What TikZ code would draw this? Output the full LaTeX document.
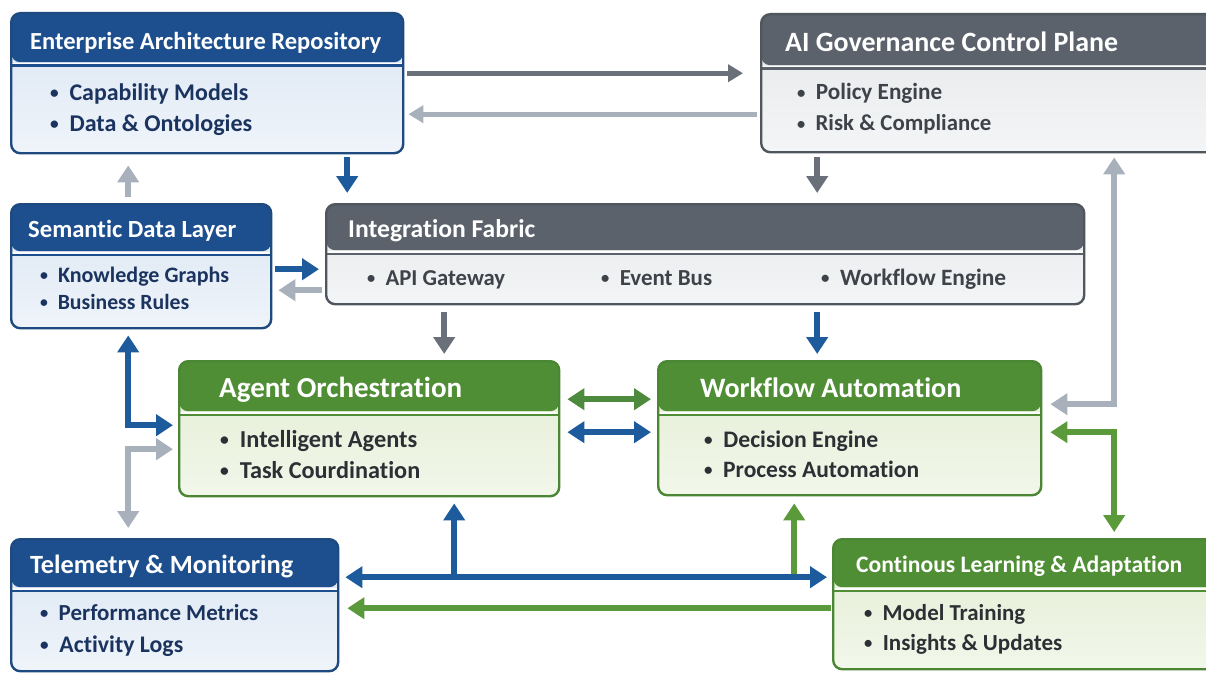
\documentclass[tikz,border=0pt]{standalone}
\usepackage{fontspec}
\usepackage{graphicx}
\setmainfont{Carlito}[Ligatures={NoCommon,NoRequired,NoContextual}]
\usetikzlibrary{arrows.meta}

\definecolor{bBd}{HTML}{1E4A80}
\definecolor{bHd}{HTML}{1D4F8E}
\definecolor{bTop}{HTML}{DAE5F2}
\definecolor{bBot}{HTML}{EFF4FA}
\definecolor{bTx}{HTML}{1B335F}
\definecolor{nBd}{HTML}{50565E}
\definecolor{nHd}{HTML}{5C626B}
\definecolor{nTop}{HTML}{E5E7EA}
\definecolor{nBot}{HTML}{F4F5F6}
\definecolor{nTx}{HTML}{3E434A}
\definecolor{gBd}{HTML}{4A8634}
\definecolor{gHd}{HTML}{4F8E35}
\definecolor{gTop}{HTML}{E2EDD3}
\definecolor{gBot}{HTML}{F2F7EA}
\definecolor{gTx}{HTML}{2C3034}
\definecolor{aBlue}{HTML}{1D5B9D}
\definecolor{aDark}{HTML}{69707A}
\definecolor{aLight}{HTML}{A8B0BB}
\definecolor{aGreen}{HTML}{5B9A3B}
\definecolor{aGreenD}{HTML}{4E8A3E}

\tikzset{
  conn/.style={line width=6pt, >={Triangle[length=17pt,width=21pt]}},
  thinconn/.style={line width=5pt, >={Triangle[length=15pt,width=17pt]}},
  txt/.style={anchor=base west, inner sep=0pt, font=\bfseries},
}

\newcommand\bul{\raisebox{0.7pt}{\scalebox{0.72}{\textbullet}}\hspace{0.45em}}

% name, x1, y1, x2, y2, header bottom y, theme
\newcommand\panel[7]{%
  \pgfmathsetmacro\pw{#4-#2}%
  \pgfmathsetmacro\ph{#5-#3}%
  \pgfmathsetmacro\hh{#6-#3}%
  \node[draw=#7Bd, line width=2.4pt, rounded corners=9pt,
        top color=#7Top, bottom color=#7Bot,
        minimum width=\pw pt, minimum height=\ph pt, inner sep=0pt,
        anchor=north west,
        path picture={
          \fill[#7Hd] (path picture bounding box.north west) rectangle
             ([shift={(0,\hh-2)}]path picture bounding box.north east);
          \draw[white, line width=1.5pt]
             ([shift={(0,\hh-0.4)}]path picture bounding box.north west) --
             ([shift={(0,\hh-0.4)}]path picture bounding box.north east);
          \draw[#7Hd, line width=2.2pt]
             ([shift={(0,\hh+1.4)}]path picture bounding box.north west) --
             ([shift={(0,\hh+1.4)}]path picture bounding box.north east);
        }] (#1) at (#2,#3) {};%
}
% name, colour, x, baseline y, width, text
\newcommand\tl[6]{%
  \node[txt, text=#2] (#1) at (#3,#4) {\resizebox{#5pt}{!}{#6}};%
}

\begin{document}
\begin{tikzpicture}[x=1pt, y=-1pt]
\useasboundingbox (0,0) rectangle (1206,674);
\clip (0,0) rectangle (1206,674);
\fill[white] (0,0) rectangle (1206,674);

% ---------- panels ----------
\panel{ear}{10}{12}{402}{152}{63}{b}
\panel{gov}{760}{13}{1235}{151}{66}{n}
\panel{sdl}{10}{203}{270}{327}{252}{b}
\panel{intf}{325}{203}{1083}{303}{251}{n}
\panel{agent}{178}{360}{558}{495}{412}{g}
\panel{wfa}{657}{360}{1040}{494}{412}{g}
\panel{tel}{10}{538}{337}{670}{588}{b}
\panel{cla}{832}{538}{1235}{668}{588}{g}

% ---------- texts ----------
\tl{t1}{white}{30}{50}{351}{Enterprise Architecture Repository}
\tl{i1a}{bTx}{50}{100}{198}{\bul Capability Models}
\tl{i1b}{bTx}{50}{131}{202}{\bul Data \& Ontologies}
\tl{t2}{white}{785}{52}{333}{AI Governance Control Plane}
\tl{i2a}{nTx}{797}{100}{145}{\bul Policy Engine}
\tl{i2b}{nTx}{797}{131}{194}{\bul Risk \& Compliance}
\tl{t3}{white}{28}{237}{208}{Semantic Data Layer}
\tl{i3a}{bTx}{40}{282}{189}{\bul Knowledge Graphs}
\tl{i3b}{bTx}{40}{309}{149}{\bul Business Rules}
\tl{t4}{white}{348}{237}{187}{Integration Fabric}
\tl{i4a}{nTx}{367}{285}{138}{\bul API Gateway}
\tl{i4b}{nTx}{601}{285}{111}{\bul Event Bus}
\tl{i4c}{nTx}{821}{285}{185}{\bul Workflow Engine}
\tl{t5}{white}{219}{397}{243}{Agent Orchestration}
\tl{i5a}{gTx}{220}{447}{197}{\bul Intelligent Agents}
\tl{i5b}{gTx}{220}{478}{200}{\bul Task Courdination}
\tl{t6}{white}{700}{397}{261}{Workflow Automation}
\tl{i6a}{gTx}{704}{447}{174}{\bul Decision Engine}
\tl{i6b}{gTx}{704}{477}{215}{\bul Process Automation}
\tl{t7}{white}{30}{573}{263}{Telemetry \& Monitoring}
\tl{i7a}{bTx}{40}{620}{218}{\bul Performance Metrics}
\tl{i7b}{bTx}{40}{652}{143}{\bul Activity Logs}
\tl{t8}{white}{856}{572}{326}{Continous Learning \& Adaptation}
\tl{i8a}{gTx}{864}{620}{161}{\bul Model Training}
\tl{i8b}{gTx}{864}{650}{198}{\bul Insights \& Updates}

% ---------- connectors ----------
% top pair
\draw[thinconn, aDark, ->] ([shift={(3,-10)}]ear.east) -- ([shift={(-17,-10)}]gov.west);
\draw[thinconn, aLight, ->] ([shift={(-3,31)}]gov.west) -- ([shift={(4,31)}]ear.east);
% down into integration fabric
\draw[conn, aBlue, ->] ([shift={(140,3)}]ear.south) -- ([shift={(-358,-10)}]intf.north);
\draw[conn, aDark, ->] ([shift={(-181.5,4)}]gov.south) -- ([shift={(112,-10)}]intf.north);
% semantic layer
\draw[conn, aLight, ->] ([shift={(-13,-6)}]sdl.north) -- ([shift={(-79,11)}]ear.south);
\draw[conn, aBlue, ->] ([shift={(3,3)}]sdl.east) -- ([shift={(-6,15)}]intf.west);
\draw[conn, aLight, ->] ([shift={(-3,36)}]intf.west) -- ([shift={(6,24)}]sdl.east);
% integration down
\draw[conn, aDark, ->] ([shift={(-261,7)}]intf.south) -- ([shift={(75,-6)}]agent.north);
\draw[conn, aBlue, ->] ([shift={(112,7)}]intf.south) -- ([shift={(-32.5,-6)}]wfa.north);
% agent <-> workflow
\draw[conn, aGreenD, <->] ([shift={(7,-29.5)}]agent.east) -- ([shift={(-6,-29)}]wfa.west);
\draw[conn, aBlue, <->] ([shift={(7,3.5)}]agent.east) -- ([shift={(-6,4)}]wfa.west);
% left L-shapes
\draw[conn, aBlue, <->] ([shift={(-13,6)}]sdl.south) |- ([shift={(-5,-3.5)}]agent.west);
\draw[conn, aLight, <->] ([shift={(-5,20.5)}]agent.west) -| ([shift={(-46.5,-10)}]tel.north);
% right L-shapes
\draw[conn, aLight, <->] ([shift={(8,-24)}]wfa.east) -| ([shift={(115.5,4)}]gov.south);
\draw[conn, aGreen, <->] ([shift={(8,4)}]wfa.east) -| ([shift={(79.5,-6)}]cla.north);
% bottom
\draw[conn, aBlue, ->] ([shift={(85,81)}]agent.south) -- ([shift={(85,6)}]agent.south);
\draw[conn, aGreen, ->] ([shift={(-55.5,82)}]wfa.south) -- ([shift={(-55.5,7)}]wfa.south);
\draw[conn, aBlue, <->] ([shift={(6,-28)}]tel.east) -- ([shift={(-5,-27)}]cla.west);
\draw[conn, aGreen, ->] ([shift={(-1,4)}]cla.west) -- ([shift={(8,3)}]tel.east);
\end{tikzpicture}
\end{document}
